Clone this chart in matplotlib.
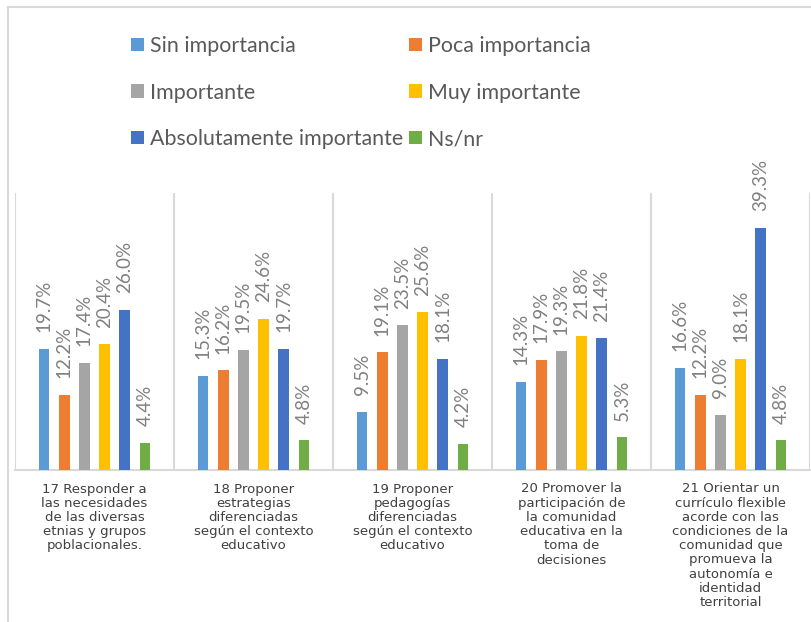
import matplotlib
matplotlib.use("Agg")
import matplotlib.pyplot as plt
import numpy as np
from matplotlib.patches import Patch
from matplotlib.lines import Line2D

categories = [
    "17 Responder a\nlas necesidades\nde las diversas\netnias y grupos\npoblacionales.",
    "18 Proponer\nestrategias\ndiferenciadas\nsegún el contexto\neducativo",
    "19 Proponer\npedagogías\ndiferenciadas\nsegún el contexto\neducativo",
    "20 Promover la\nparticipación de\nla comunidad\neducativa en la\ntoma de\ndecisiones",
    "21 Orientar un\ncurrículo flexible\nacorde con las\ncondiciones de la\ncomunidad que\npromueva la\nautonomía e\nidentidad\nterritorial",
]
series_names = ["Sin importancia", "Poca importancia", "Importante",
                "Muy importante", "Absolutamente importante", "Ns/nr"]
sin_importancia = [19.7, 15.3, 9.5, 14.3, 16.6]
poca_importancia = [12.2, 16.2, 19.1, 17.9, 12.2]
importante = [17.4, 19.5, 23.5, 19.3, 9.0]
muy_importante = [20.4, 24.6, 25.6, 21.8, 18.1]
absolutamente = [26.0, 19.7, 18.1, 21.4, 39.3]
ns_nr = [4.4, 4.8, 4.2, 5.3, 4.8]
series_values = [sin_importancia, poca_importancia, importante,
                 muy_importante, absolutamente, ns_nr]
colors = ["#5B9BD5", "#ED7D31", "#A5A5A5", "#FFC000", "#4472C4", "#70AD47"]

W, H = 812, 622
fig = plt.figure(figsize=(W / 100, H / 100), dpi=100)
ax = fig.add_axes([15 / W, 1 - 470 / H, (810 - 15) / W, (470 - 193) / H])

x = np.arange(len(categories))
slot = 0.127
bw = 0.067
label_color = "#808080"
for i, (name, vals, c) in enumerate(zip(series_names, series_values, colors)):
    xs = x + (i - 2.5) * slot
    bars = ax.bar(xs, vals, width=bw, color=c, label=name, zorder=3)
    for b, v in zip(bars, vals):
        ax.annotate(f"{v:.1f}%", (b.get_x() + b.get_width() / 2, b.get_height()),
                    xytext=(0, 12), textcoords="offset points",
                    rotation=90, ha="center", va="bottom",
                    fontsize=13.5, color=label_color, family="Lato",
                    annotation_clip=False)

ax.set_xlim(-0.5, len(categories) - 0.5)
ax.set_ylim(0, 45)
ax.set_yticks([])
ax.set_xticks(x)
ax.set_xticklabels(categories, fontsize=9.5, color="#404040",
                   family="DejaVu Sans", linespacing=1.12, va="top")
ax.tick_params(axis="x", length=0, pad=9)
for s in ["top", "right", "left"]:
    ax.spines[s].set_visible(False)
ax.spines["bottom"].set_color("#D9D9D9")
ax.spines["bottom"].set_linewidth(1.5)
for d in np.arange(-0.5, len(categories), 1.0):
    ax.axvline(d, color="#D9D9D9", lw=1.5, zorder=1)

# chart border (left and top)
fig.add_artist(Line2D([8 / W, 8 / W], [0, 1 - 7 / H], transform=fig.transFigure,
                      color="#D9D9D9", lw=1.5))
fig.add_artist(Line2D([8 / W, 1], [1 - 7 / H, 1 - 7 / H], transform=fig.transFigure,
                      color="#D9D9D9", lw=1.5))

# legend (two columns, row-wise order)
order = [0, 2, 4, 1, 3, 5]
handles = [Patch(facecolor=colors[k], edgecolor="none") for k in order]
labels = [series_names[k] for k in order]
fig.legend(handles, labels, ncol=2, loc="upper left",
           bbox_to_anchor=(131 / W, 1 - 36 / H), frameon=False,
           prop={"family": "Lato", "size": 15.4}, labelcolor="#595959",
           handlelength=0.6, handleheight=0.6, handletextpad=0.3,
           columnspacing=0.25, labelspacing=1.24, borderaxespad=0, borderpad=0)

fig.savefig("out.png", dpi=100, facecolor="white")
